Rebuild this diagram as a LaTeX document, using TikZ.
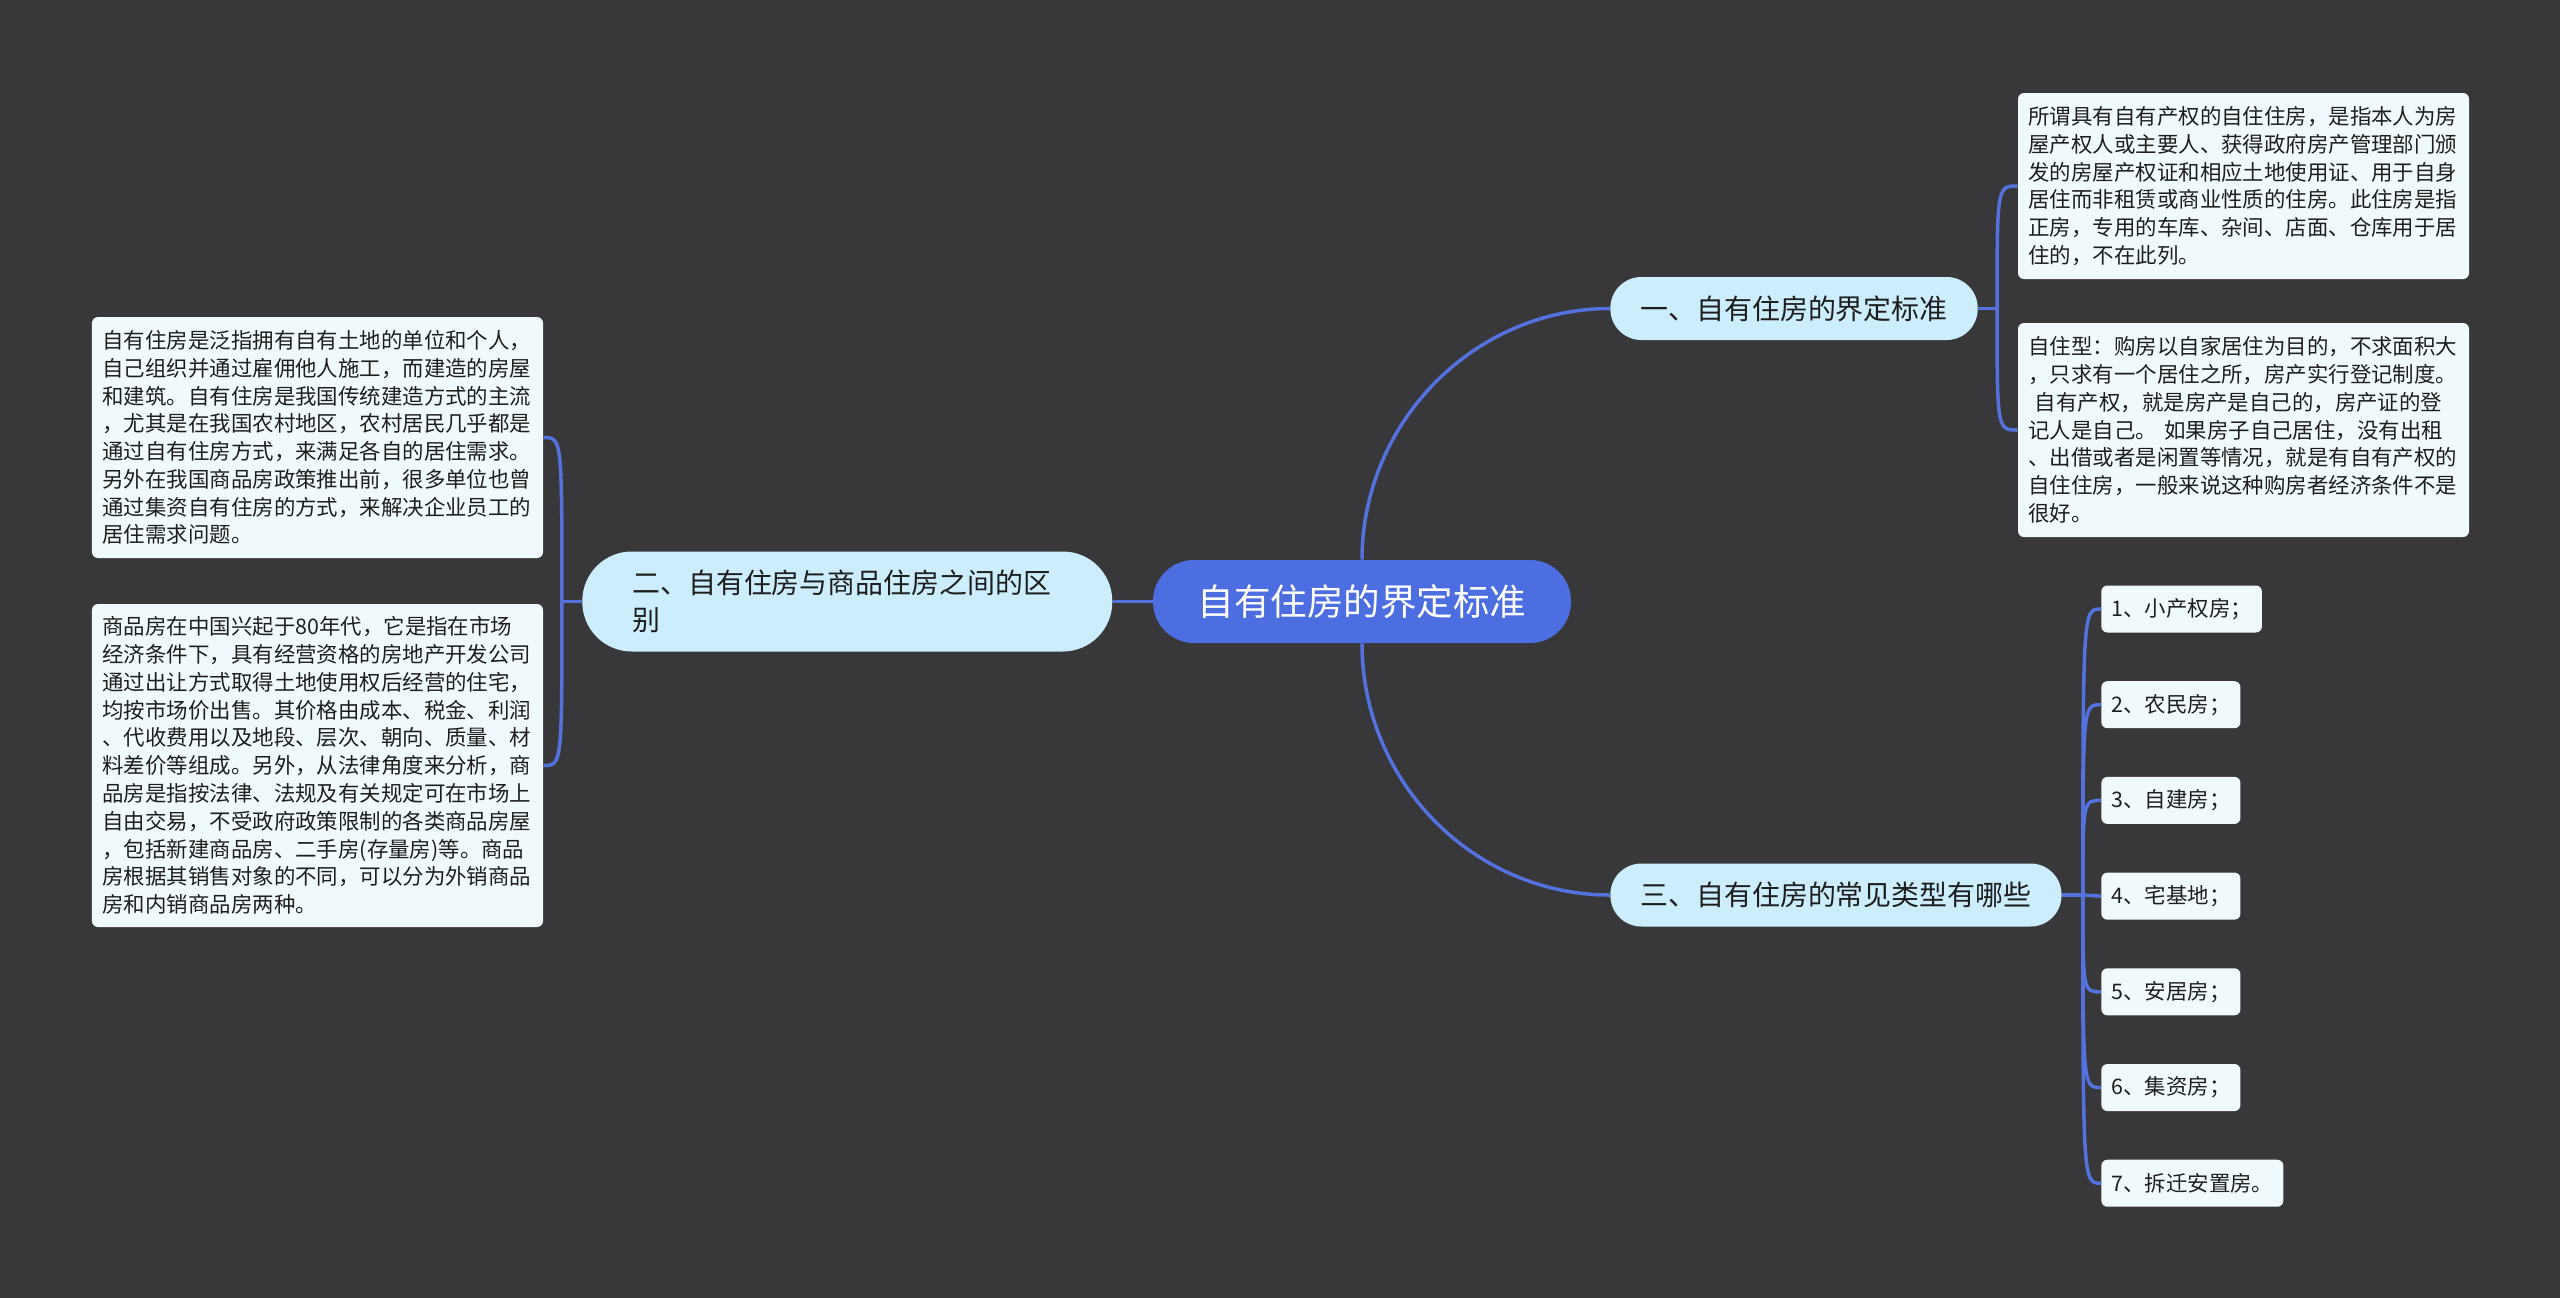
\documentclass[tikz,border=0pt]{standalone}
\usepackage{fontspec}
\setmainfont{Noto Sans CJK SC}
\usetikzlibrary{positioning}
\definecolor{bgdark}{RGB}{56,55,57}
\definecolor{rootblue}{RGB}{77,110,224}
\definecolor{linkblue}{RGB}{84,114,222}
\definecolor{topicfill}{RGB}{204,238,252}
\definecolor{cardfill}{RGB}{240,250,253}
\definecolor{inkdark}{RGB}{30,30,30}
\tikzset{
  rootnode/.style={fill=rootblue, text=white, rounded corners=8.2mm, minimum width=83.6mm, minimum height=16.6mm, font=\fontsize{20.8}{25}\selectfont},
  topic/.style={fill=topicfill, text=inkdark, rounded corners=6.2mm, minimum height=12.6mm, inner xsep=6mm, font=\fontsize{15.9}{20}\selectfont},
  topicwide/.style={topic, rounded corners=9.9mm, minimum height=20mm, inner xsep=10mm, text width=86mm, align=left, font=\fontsize{15.9}{21.4}\selectfont},
  card/.style={fill=cardfill, text=inkdark, rounded corners=1.2mm, inner xsep=2.1mm, text width=86mm, align=left, font=\fontsize{12.2}{15.8}\selectfont},
  item/.style={fill=cardfill, text=inkdark, rounded corners=1.2mm, inner xsep=2mm, minimum height=9.4mm, font=\fontsize{12.2}{15.8}\selectfont},
  link/.style={draw=linkblue, line width=0.7mm}
}
\begin{document}
\begin{tikzpicture}[x=0.2mm, y=-0.2mm]
  \useasboundingbox (0,0) rectangle (2560,1297);
  \fill[bgdark] (-10,-10) rectangle (2570,1307);

  % centre and main branches
  \node[rootnode] (root) at (1362,601.5) {自有住房的界定标准};
  \node[topic, anchor=west] (t1) at (1610,308.5) {一、自有住房的界定标准};
  \node[topicwide, left=8mm of root] (t2) {二、自有住房与商品住房之间的区\\别};
  \node[topic, anchor=west] (t3) at (1610,895) {三、自有住房的常见类型有哪些};

  % right cards
  \node[card, minimum height=37.2mm] (c1) at (2243.5,186) {所谓具有自有产权的自住住房，是指本人为房\\屋产权人或主要人、获得政府房产管理部门颁\\发的房屋产权证和相应土地使用证、用于自身\\居住而非租赁或商业性质的住房。此住房是指\\正房，专用的车库、杂间、店面、仓库用于居\\住的，不在此列。};
  \node[card, minimum height=42.8mm] (c2) at (2243.5,430) {自住型：购房以自家居住为目的，不求面积大\\，只求有一个居住之所，房产实行登记制度。\\\hspace*{0.3em}自有产权，就是房产是自己的，房产证的登\\记人是自己。 如果房子自己居住，没有出租\\、出借或者是闲置等情况，就是有自有产权的\\自住住房，一般来说这种购房者经济条件不是\\很好。};

  % left cards
  \node[card, minimum height=48.2mm] (c3) at (317.5,437.5) {自有住房是泛指拥有自有土地的单位和个人，\\自己组织并通过雇佣他人施工，而建造的房屋\\和建筑。自有住房是我国传统建造方式的主流\\，尤其是在我国农村地区，农村居民几乎都是\\通过自有住房方式，来满足各自的居住需求。\\另外在我国商品房政策推出前，很多单位也曾\\通过集资自有住房的方式，来解决企业员工的\\居住需求问题。};
  \node[card, minimum height=64.6mm] (c4) at (317.5,765.5) {商品房在中国兴起于80年代，它是指在市场\\经济条件下，具有经营资格的房地产开发公司\\通过出让方式取得土地使用权后经营的住宅，\\均按市场价出售。其价格由成本、税金、利润\\、代收费用以及地段、层次、朝向、质量、材\\料差价等组成。另外，从法律角度来分析，商\\品房是指按法律、法规及有关规定可在市场上\\自由交易，不受政府政策限制的各类商品房屋\\，包括新建商品房、二手房(存量房)等。商品\\房根据其销售对象的不同，可以分为外销商品\\房和内销商品房两种。};

  % house types
  \node[item, anchor=west] (i1) at (2101,609) {1、小产权房；};
  \node[item, below=9.6mm of i1.south west, anchor=north west] (i2) {2、农民房；};
  \node[item, below=9.6mm of i2.south west, anchor=north west] (i3) {3、自建房；};
  \node[item, below=9.6mm of i3.south west, anchor=north west] (i4) {4、宅基地；};
  \node[item, below=9.6mm of i4.south west, anchor=north west] (i5) {5、安居房；};
  \node[item, below=9.6mm of i5.south west, anchor=north west] (i6) {6、集资房；};
  \node[item, below=9.6mm of i6.south west, anchor=north west] (i7) {7、拆迁安置房。};

  \coordinate (j1) at ([xshift=3.8mm]t1.east);
  \coordinate (j2) at ([xshift=-4mm]t2.west);
  \coordinate (j3) at ([xshift=4.2mm]t3.east);

  \draw[link] (root.west) -- (t2.east);
  \draw[link] (root.north) .. controls +(0,-137) and +(-136,0) .. (t1.west);
  \draw[link] (root.south) .. controls +(0,139) and +(-136,0) .. (t3.west);

  \draw[link] (t1.east) -- (j1);
  \draw[link] (j1) .. controls (j1 |- c1.west) and (j1 |- c1.west) .. (c1.west);
  \draw[link] (j1) .. controls (j1 |- c2.west) and (j1 |- c2.west) .. (c2.west);

  \draw[link] (t2.west) -- (j2);
  \draw[link] (j2) .. controls (j2 |- c3.east) and (j2 |- c3.east) .. (c3.east);
  \draw[link] (j2) .. controls (j2 |- c4.east) and (j2 |- c4.east) .. (c4.east);

  \draw[link] (t3.east) -- (j3);
  \draw[link] (j3) .. controls (j3 |- i1.west) and (j3 |- i1.west) .. (i1.west);
  \draw[link] (j3) .. controls (j3 |- i2.west) and (j3 |- i2.west) .. (i2.west);
  \draw[link] (j3) .. controls (j3 |- i3.west) and (j3 |- i3.west) .. (i3.west);
  \draw[link] (j3) -- (i4.west);
  \draw[link] (j3) .. controls (j3 |- i5.west) and (j3 |- i5.west) .. (i5.west);
  \draw[link] (j3) .. controls (j3 |- i6.west) and (j3 |- i6.west) .. (i6.west);
  \draw[link] (j3) .. controls (j3 |- i7.west) and (j3 |- i7.west) .. (i7.west);
\end{tikzpicture}
\end{document}
